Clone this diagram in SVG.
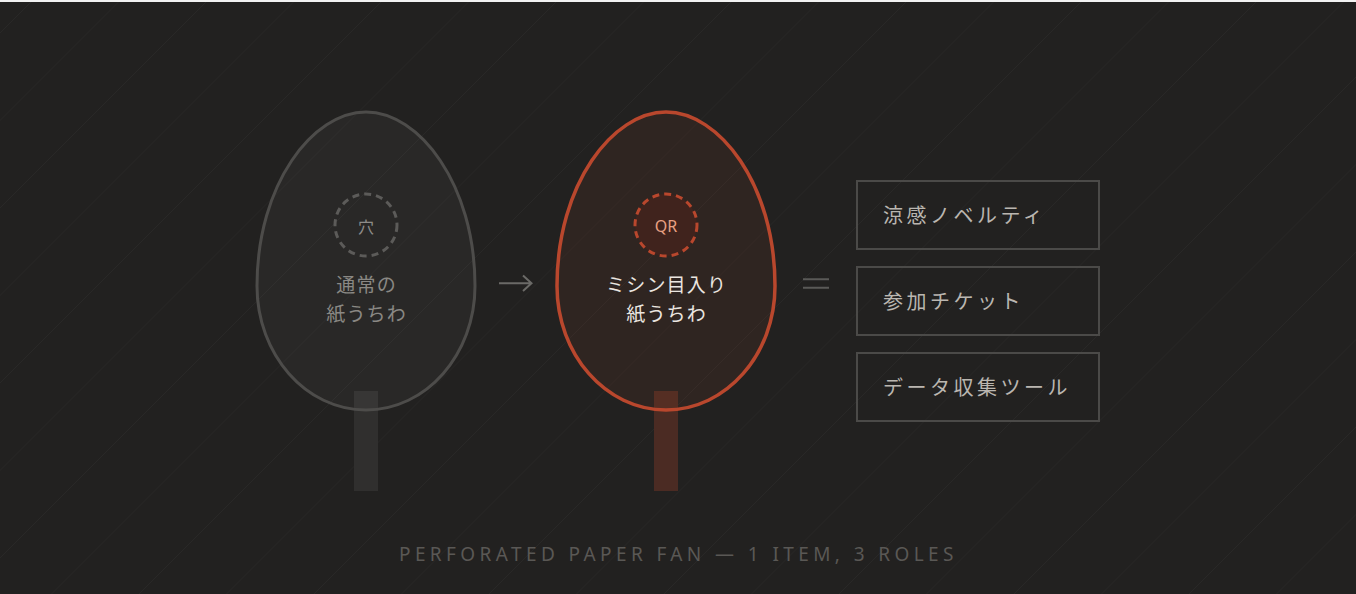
<svg xmlns="http://www.w3.org/2000/svg" width="1356" height="594" viewBox="0 0 1356 594">
<style>
  .bgline{stroke:#292827;stroke-width:1}
  .jp{font-family:"Noto Sans CJK JP","Noto Sans",sans-serif}
  .fan-label{font-size:19px;letter-spacing:1.2px;text-anchor:middle}
  .role-box{fill:none;stroke:#4b4a48;stroke-width:2}
  .role-text{font-size:20px;letter-spacing:3.5px;fill:#bab6b0}
  .op{fill:none;stroke-width:2}
</style>
<defs>
  <path id="egg" d="M 0 112 C 53 112 109 184 109 286 C 109 354.5 60.2 410 0 410 C -60.2 410 -109 354.5 -109 286 C -109 184 -53 112 0 112 Z"/>
</defs>
<g id="background">
  <rect x="0" y="0" width="1356" height="594" fill="#222120"/>
  <g class="bgline">
    <line x1="33" y1="0" x2="-561" y2="594"/>
    <line x1="120.5" y1="0" x2="-473.5" y2="594"/>
    <line x1="208" y1="0" x2="-386" y2="594"/>
    <line x1="295.5" y1="0" x2="-298.5" y2="594"/>
    <line x1="383" y1="0" x2="-211" y2="594"/>
    <line x1="470.5" y1="0" x2="-123.5" y2="594"/>
    <line x1="558" y1="0" x2="-36" y2="594"/>
    <line x1="645.5" y1="0" x2="51.5" y2="594"/>
    <line x1="733" y1="0" x2="139" y2="594"/>
    <line x1="820.5" y1="0" x2="226.5" y2="594"/>
    <line x1="908" y1="0" x2="314" y2="594"/>
    <line x1="995.5" y1="0" x2="401.5" y2="594"/>
    <line x1="1083" y1="0" x2="489" y2="594"/>
    <line x1="1170.5" y1="0" x2="576.5" y2="594"/>
    <line x1="1258" y1="0" x2="664" y2="594"/>
    <line x1="1345.5" y1="0" x2="751.5" y2="594"/>
    <line x1="1433" y1="0" x2="839" y2="594"/>
    <line x1="1520.5" y1="0" x2="926.5" y2="594"/>
    <line x1="1608" y1="0" x2="1014" y2="594"/>
    <line x1="1695.5" y1="0" x2="1101.5" y2="594"/>
    <line x1="1783" y1="0" x2="1189" y2="594"/>
    <line x1="1870.5" y1="0" x2="1276.5" y2="594"/>
    <line x1="1958" y1="0" x2="1364" y2="594"/>
  </g>
  <rect x="0" y="0" width="1356" height="2" fill="#f2f2f2"/>
</g>
<g id="fan-plain">
  <rect x="354" y="391" width="24" height="100" fill="#302f2e"/>
  <use href="#egg" x="366" fill="#ffffff" fill-opacity="0.035" stroke="#4d4c4a" stroke-width="3"/>
  <circle cx="366" cy="225" r="31" fill="none" stroke="#5c5b59" stroke-width="3" stroke-dasharray="7 5"/>
  <text class="jp" x="366" y="232.5" font-size="16" text-anchor="middle" fill="#8e8c89">穴</text>
  <text class="jp fan-label" fill="#8a8884"><tspan x="366.6" y="291.5">通常の</tspan><tspan x="366.6" y="320.5">紙うちわ</tspan></text>
</g>
<g id="fan-perforated">
  <rect x="654" y="391" width="24" height="100" fill="#4b2b23"/>
  <use href="#egg" x="666" fill="#c0502f" fill-opacity="0.09" stroke="#b9472d" stroke-width="3.5"/>
  <circle cx="666" cy="225" r="31" fill="#40231d" stroke="#b9472d" stroke-width="3" stroke-dasharray="7 5"/>
  <text x="666" y="231.5" font-family="'Noto Sans',sans-serif" font-size="16" text-anchor="middle" fill="#e8a083">QR</text>
  <text class="jp fan-label" fill="#ebe6e0"><tspan x="666.6" y="291.5">ミシン目入り</tspan><tspan x="666.6" y="320.5">紙うちわ</tspan></text>
</g>
<g id="connectors">
  <path class="op" stroke="#6b6a67" d="M 499 283.3 H 531 M 523 275.5 L 531.5 283.3 L 523 291"/>
  <path class="op" stroke="#5a5957" d="M 803 279.3 H 829 M 803 287.7 H 829"/>
</g>
<g id="role-novelty">
  <rect class="role-box" x="857" y="181" width="242" height="68"/>
  <text class="jp role-text" x="883" y="223">涼感ノベルティ</text>
</g>
<g id="role-ticket">
  <rect class="role-box" x="857" y="267" width="242" height="68"/>
  <text class="jp role-text" x="883" y="309">参加チケット</text>
</g>
<g id="role-data">
  <rect class="role-box" x="857" y="353" width="242" height="68"/>
  <text class="jp role-text" x="883" y="395">データ収集ツール</text>
</g>
<g id="caption">
  <text x="399" y="560.5" font-family="'Noto Sans',sans-serif" font-size="19" letter-spacing="4.4" fill="#5a5855">PERFORATED PAPER FAN — 1 ITEM, 3 ROLES</text>
</g>
</svg>
